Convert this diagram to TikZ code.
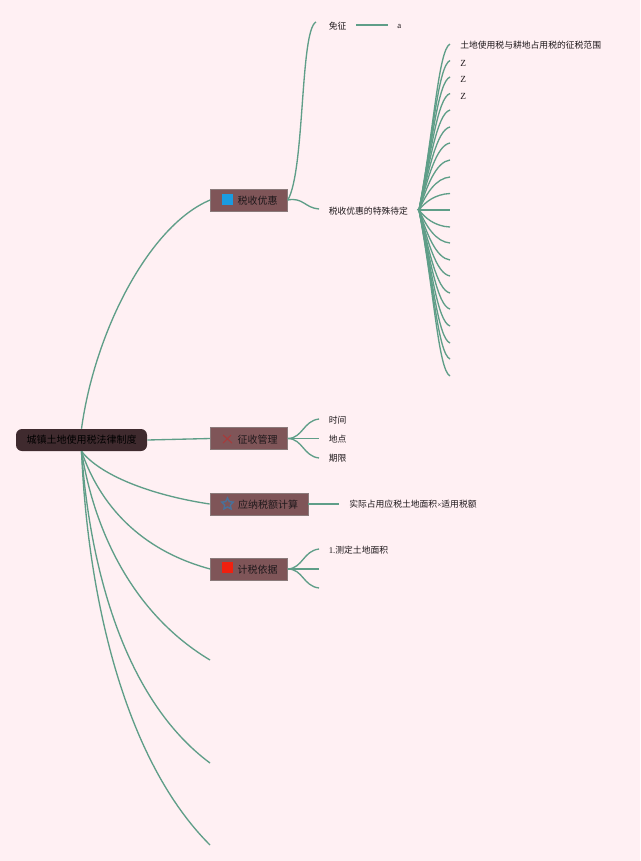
\documentclass[tikz,border=0pt]{standalone}
\usepackage{fontspec}
\setmainfont{Liberation Serif}
\newfontfamily\cjk{Noto Sans CJK SC}
\newfontfamily\lat{Liberation Serif}
\usetikzlibrary{shapes.geometric}
\definecolor{bgc}{HTML}{FFF0F3}
\definecolor{linec}{HTML}{5F9E88}
\definecolor{boxc}{HTML}{7F5558}
\definecolor{boxb}{HTML}{8A7A7A}
\definecolor{rootc}{HTML}{3F2A2E}
\definecolor{txtc}{HTML}{1E181B}
\tikzset{
  x=0.75pt,y=-0.75pt,
  link/.style={draw=linec,line width=1pt},
  rootbox/.style={fill=rootc,rounded corners=4.5pt,minimum width=98.25pt,minimum height=16.5pt,inner sep=0pt,text=black,font=\cjk\fontsize{7.5}{9}\selectfont},
  mainbox/.style={fill=boxc,draw=boxb,line width=0.5pt,minimum height=16.5pt,inner sep=0pt},
  boxtext/.style={anchor=center,inner sep=0pt,text=txtc,font=\cjk\fontsize{7.5}{9}\selectfont},
  leaf/.style={anchor=west,inner sep=0pt,text=txtc,font=\cjk\fontsize{6.6}{8}\selectfont},
  icon/.style={inner sep=0pt,minimum size=8.25pt}
}
\begin{document}
\begin{tikzpicture}
\fill[bgc] (0,0) rectangle (640,861);
\useasboundingbox (0,0) rectangle (640,861);

% root and main topics
\node[rootbox] (root) at (81.5,440) {城镇土地使用税法律制度};
\node[mainbox,minimum width=57.75pt] (tax) at (249,200) {};
\node[mainbox,minimum width=57.75pt] (coll) at (249,438.5) {};
\node[mainbox,minimum width=73.5pt] (calc) at (259,504) {};
\node[mainbox,minimum width=57.75pt] (base) at (249,569) {};
\node[boxtext] (taxt) at (257.5,200.5) {税收优惠};
\node[boxtext] (collt) at (257.5,439.5) {征收管理};
\node[boxtext] (calct) at (268,504.5) {应纳税额计算};
\node[boxtext] (baset) at (257.5,569.5) {计税依据};

% icons
\definecolor{iconblue}{HTML}{1A9BE0}
\definecolor{iconred}{HTML}{F02010}
\definecolor{iconstar}{HTML}{4A7098}
\definecolor{iconx}{HTML}{A83A3A}
\node[icon,fill=iconblue] (i1) at (227.5,199.5) {};
\node[icon,fill=iconred] (i4) at (227.5,567.5) {};
\node[star,star points=5,star point ratio=2.0,fill=boxc,draw=iconstar,line width=1.1pt,inner sep=0pt,minimum size=9pt] (i3) at (227.5,504) {};
\coordinate (c1a) at (223,435); \coordinate (c1b) at (232,443);
\coordinate (c1c) at (231,435); \coordinate (c1d) at (223,443);
\draw[iconx,line width=0.8pt] (c1a) -- (c1b) (c1c) -- (c1d);

% free ends of root branches
\coordinate (e1) at (210,660);
\coordinate (e2) at (210,763);
\coordinate (e3) at (210,845);

\draw[link] (root.north) .. controls (95,330) and (150,225) .. (tax.west);
\draw[link] (root.east) -- (coll.west);
\draw[link] (root.south) .. controls (100,475) and (150,495) .. (calc.west);
\draw[link] (root.south) .. controls (100,505) and (140,550) .. (base.west);
\draw[link] (root.south) .. controls (95,535) and (135,615) .. (e1);
\draw[link] (root.south) .. controls (90,570) and (125,700) .. (e2);
\draw[link] (root.south) .. controls (88,600) and (125,760) .. (e3);

% tax branch
\node[leaf] (t1) at (328.5,26) {免征};
\node[leaf] (t1a) at (397,26) {\lat a};
\node[leaf] (t2) at (328.5,211) {税收优惠的特殊待定};
\coordinate (t1in) at (316,22);
\coordinate (t1out) at (356,25);
\coordinate (t1aend) at (388,25);
\coordinate (t2in) at (319,209);
\draw[link] (tax.east) .. controls (305,170) and (300,30) .. (t1in);
\draw[link] (t1out) -- (t1aend);
\draw[link] (tax.east) .. controls (303,197) and (305,208) .. (t2in);

% fan
\coordinate (fan) at (419,210);
\draw[linec,line width=1pt] (fan) -- (417,209.5);
\foreach \i/\y in {1/44,2/60.5,3/77,4/93.5,5/110,6/127,7/143,8/160,9/177,10/193.5,11/210,12/227,13/243,14/260,15/276,16/293,17/309,18/326,19/343,20/359,21/376}{
  \coordinate (f\i) at (450,\y);
  \pgfmathsetmacro{\cx}{424+abs(\y-210)*0.06}
  \pgfmathsetmacro{\cy}{210+(\y-210)*0.48}
  \pgfmathsetmacro{\dx}{435+abs(\y-210)*0.02}
  \pgfmathsetmacro{\dy}{\y-(\y-210)*0.036}
  \draw[link] (fan) .. controls (\cx,\cy) and (\dx,\dy) .. (f\i);
}
\node[leaf] (l1) at (460,45.5) {土地使用税与耕地占用税的征税范围};
\node[leaf,font=\lat\fontsize{7}{8}\selectfont] (l2) at (460,63) {Z};
\node[leaf,font=\lat\fontsize{7}{8}\selectfont] (l3) at (460,79.5) {Z};
\node[leaf,font=\lat\fontsize{7}{8}\selectfont] (l4) at (460,96) {Z};

% collection branch
\node[leaf] (c1) at (328.5,420.5) {时间};
\node[leaf] (c2) at (328.5,439) {地点};
\node[leaf] (c3) at (328.5,458) {期限};
\coordinate (ce1) at (319,419);
\coordinate (ce2) at (319,438.5);
\coordinate (ce3) at (319,458);
\draw[link] (coll.east) .. controls (303,438) and (303,421) .. (ce1);
\draw[link] (coll.east) -- (ce2);
\draw[link] (coll.east) .. controls (303,439) and (303,456) .. (ce3);

% calc branch
\node[leaf] (k1) at (349,504.5) {实际占用应税土地面积{\lat\fontsize{5.5}{8}\selectfont ×}适用税额};
\coordinate (ke) at (339,504);
\draw[link] (calc.east) -- (ke);

% base branch
\node[leaf] (b1) at (328.5,550.5) {{\lat 1.}测定土地面积};
\coordinate (be1) at (319,549);
\coordinate (be2) at (319,569);
\coordinate (be3) at (319,588);
\draw[link] (base.east) .. controls (303,568) and (303,551) .. (be1);
\draw[link] (base.east) -- (be2);
\draw[link] (base.east) .. controls (303,569) and (303,586) .. (be3);
\end{tikzpicture}
\end{document}
